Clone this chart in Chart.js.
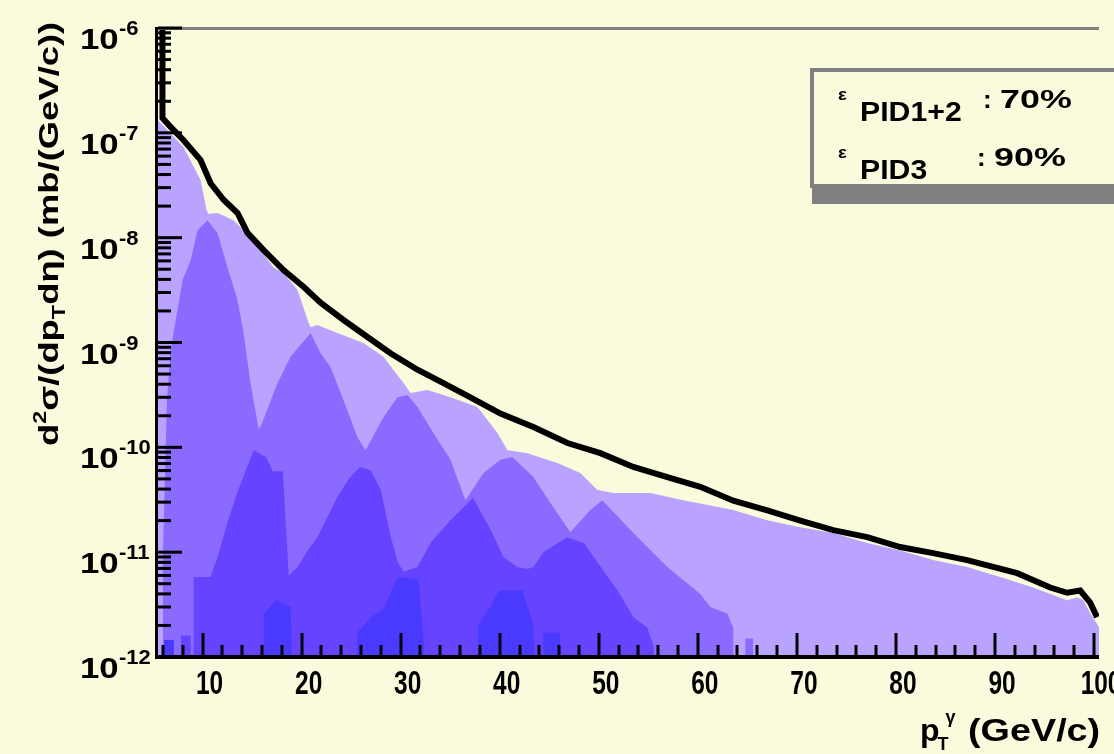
<!DOCTYPE html>
<html>
<head>
<meta charset="utf-8">
<script src="https://cdn.jsdelivr.net/npm/chart.js@4.4.1/dist/chart.umd.min.js"></script>
<style>
  html, body { margin: 0; padding: 0; background: #fafadc; }
  canvas { display: block; }
</style>
</head>
<body>
<canvas id="spectrum" width="1114" height="754"></canvas>
<script>
// Total spectrum (black line)
const totalPt = [5.5, 5.95, 5.95, 6.77, 8.08, 9.8, 10.81, 12.12, 13.53, 14.54, 16.16, 18.17, 20.19, 21.91, 24.23, 26.65, 28.97, 31.7, 34.32, 37.04, 40.07, 43.4, 46.83, 50.16, 53.49, 56.92, 60.25, 63.58, 67.01, 70.34, 73.67, 77.1, 80.43, 83.76, 87.19, 92.24, 95.57, 97.29, 98.6, 99.61, 100.3];
const totalVal = [5e-6, 5e-6, 1.38e-7, 1.14e-7, 8.5e-8, 5.5e-8, 3.3e-8, 2.3e-8, 1.72e-8, 1.11e-8, 7.6e-9, 4.9e-9, 3.4e-9, 2.4e-9, 1.64e-9, 1.13e-9, 7.9e-10, 5.5e-10, 4.1e-10, 3.0e-10, 2.1e-10, 1.56e-10, 1.1e-10, 8.8e-11, 6.5e-11, 5.2e-11, 4.2e-11, 3.1e-11, 2.5e-11, 2.0e-11, 1.62e-11, 1.39e-11, 1.12e-11, 9.8e-12, 8.4e-12, 6.3e-12, 4.6e-12, 4.1e-12, 4.3e-12, 3.3e-12, 2.4e-12];

// Light fill (upper envelope)
const lightPt = [5.5, 8.08, 9.8, 10.4, 10.61, 11.51, 13.13, 14.14, 15.85, 17.16, 18.17, 19.59, 20.6, 20.9, 21.6, 23.62, 26.25, 28.26, 30.28, 30.99, 32.7, 35.03, 37.75, 39.77, 40.78, 42.8, 45.82, 48.14, 49.86, 51.47, 55.21, 58.54, 63.58, 67.01, 70.34, 73.67, 77.1, 80.43, 83.76, 87.19, 90.52, 93.85, 97.29, 98.3, 98.9, 99.61, 100.5];
const lightVal = [1.32e-7, 7.3e-8, 3.55e-8, 1.83e-8, 1.68e-8, 1.72e-8, 1.47e-8, 1.18e-8, 7.6e-9, 5.2e-9, 4.6e-9, 3.16e-9, 1.64e-9, 1.4e-9, 1.47e-9, 1.23e-9, 9.9e-10, 7.3e-10, 4.1e-10, 3.29e-10, 3.52e-10, 3.01e-10, 2.42e-10, 1.37e-10, 9.4e-11, 8.8e-11, 7.1e-11, 5.7e-11, 3.91e-11, 3.66e-11, 3.66e-11, 3.13e-11, 2.52e-11, 2.02e-11, 1.73e-11, 1.52e-11, 1.22e-11, 1.04e-11, 8.4e-12, 7.2e-12, 5.8e-12, 4.6e-12, 3.48e-12, 3.72e-12, 3.48e-12, 2.62e-12, 1.92e-12];

// Medium fill (triangular peaks)
const midPt = [5.95, 6.0, 6.4, 6.77, 7.07, 7.98, 8.79, 9.5, 10.5, 11.51, 12.52, 13.53, 14.14, 14.84, 15.65, 15.85, 17.57, 18.88, 20.9, 21.91, 22.92, 24.23, 25.64, 26.45, 28.26, 29.68, 30.69, 31.7, 33.31, 35.03, 36.54, 38.36, 40.07, 41.28, 43.4, 45.12, 47.13, 49.15, 50.36, 53.49, 56.92, 60.25, 61.26, 62.98, 63.58, 63.6, 64.8, 64.8, 65.6, 65.6];
const midVal = [1e-12, 1e-11, 2.8e-10, 8.5e-10, 1.23e-9, 3.94e-9, 6.1e-9, 1.18e-8, 1.47e-8, 1.11e-8, 5.2e-9, 2.54e-9, 1.23e-9, 4.1e-10, 1.5e-10, 1.56e-10, 4.1e-10, 7.3e-10, 1.23e-9, 7.9e-10, 5.8e-10, 2.82e-10, 1.25e-10, 9.4e-11, 1.94e-10, 3.01e-10, 3.15e-10, 2.42e-10, 1.37e-10, 7.6e-11, 3.13e-11, 5.7e-11, 7.6e-11, 8.1e-11, 5.2e-11, 2.94e-11, 1.55e-11, 2.52e-11, 3.13e-11, 1.52e-11, 7.2e-12, 4.0e-12, 3.0e-12, 2.6e-12, 1.9e-12, 1e-12, 1e-12, 1.5e-12, 1.5e-12, 1e-12];

// Dark fill
const darkPt = [7.8, 7.8, 8.8, 8.8, 9.1, 9.1, 10.8, 11.5, 12.5, 13.5, 15.15, 16.4, 17.1, 18.1, 18.7, 19.6, 20.6, 21.6, 23.6, 24.9, 25.9, 27.0, 28.0, 29.0, 29.7, 30.3, 31.7, 33.0, 35.0, 37.3, 39.1, 40.4, 41.8, 42.8, 43.4, 44.4, 46.8, 48.5, 50.2, 51.9, 53.5, 54.9, 55.5, 55.6];
const darkVal = [1e-12, 1.6e-12, 1.6e-12, 1e-12, 1e-12, 5.8e-12, 5.8e-12, 8.9e-12, 1.9e-11, 3.7e-11, 9.4e-11, 8.1e-11, 5.9e-11, 5.9e-11, 6e-12, 7.2e-12, 1.04e-11, 1.39e-11, 3.35e-11, 5.2e-11, 6.5e-11, 6.0e-11, 3.9e-11, 1.4e-11, 8e-12, 6.5e-12, 7.2e-12, 1.22e-11, 2.0e-11, 3.3e-11, 1.62e-11, 8.9e-12, 7.2e-12, 6.9e-12, 7.2e-12, 1.0e-11, 1.39e-11, 1.22e-11, 7.2e-12, 4.3e-12, 2.4e-12, 1.9e-12, 1.3e-12, 1e-12];

// Bluest fill near the bottom
const bluePt = [6.1, 6.1, 7.1, 7.1, 16.2, 16.2, 17.5, 18.9, 19.0, 25.6, 25.6, 27.0, 28.3, 29.7, 31.8, 32.3, 32.4, 37.8, 37.8, 39.0, 40.0, 42.3, 43.4, 43.5, 44.4, 44.4, 46.1, 46.1];
const blueVal = [1e-12, 1.45e-12, 1.45e-12, 1e-12, 1e-12, 2.6e-12, 3.5e-12, 3.0e-12, 1e-12, 1e-12, 1.7e-12, 2.4e-12, 2.9e-12, 5.8e-12, 5.5e-12, 1.5e-12, 1e-12, 1e-12, 2.0e-12, 3.0e-12, 4.3e-12, 4.3e-12, 2.0e-12, 1e-12, 1e-12, 1.7e-12, 1.7e-12, 1e-12];

// Axis ticks and legend text
const xTickVals = [10, 20, 30, 40, 50, 60, 70, 80, 90, 100];
const yExponents = [-12, -11, -10, -9, -8, -7, -6];
const legendNames = ['PID1+2', 'PID3'];
const legendEff = ['70%', '90%'];

const BG = '#fafadc';
const FONT = '"Liberation Sans", Arial, sans-serif';

function points(xs, ys) {
  return xs.map((x, i) => ({ x, y: ys[i] }));
}

function fillSet(xs, ys, color, order) {
  return {
    data: points(xs, ys),
    backgroundColor: color,
    borderWidth: 0,
    pointRadius: 0,
    fill: 'start',
    order,
  };
}

// Draw text with horizontal stretch
function drawText(ctx, str, x, y, size, align, sx) {
  ctx.save();
  ctx.translate(x, y);
  ctx.scale(sx, 1);
  ctx.font = `bold ${size}px ${FONT}`;
  ctx.textAlign = align;
  ctx.textBaseline = 'alphabetic';
  ctx.fillText(str, 0, 0);
  const w = ctx.measureText(str).width * sx;
  ctx.restore();
  return w;
}

// Rich text: parts with vertical shift (negative = up)
function drawRich(ctx, parts, x, y, sx) {
  let cx = x;
  parts.forEach((p) => {
    cx += drawText(ctx, p.t, cx, y + (p.dy || 0), p.size, 'left', sx);
  });
  return cx - x;
}

const backgroundPlugin = {
  id: 'background',
  beforeDraw(chart) {
    const { ctx } = chart;
    ctx.save();
    ctx.fillStyle = BG;
    ctx.fillRect(0, 0, chart.width, chart.height);
    ctx.restore();
  },
};

const framePlugin = {
  id: 'frame',
  afterDatasetsDraw(chart) {
    const { ctx, chartArea: area } = chart;
    const xs = chart.scales.x;
    const ys = chart.scales.y;
    ctx.save();
    // top frame (grey), axes (black)
    ctx.fillStyle = '#808080';
    ctx.fillRect(area.left - 2, area.top - 1, area.right - area.left + 2, 3);
    ctx.fillStyle = '#000';
    ctx.fillRect(area.left - 3, area.top - 1, 3, area.bottom - area.top + 3);
    ctx.fillRect(area.left - 3, area.bottom - 2, area.right - area.left + 3, 4);

    // x ticks
    for (let v = 6; v <= 100; v += 2) {
      const px = Math.round(xs.getPixelForValue(v));
      const len = v % 10 === 0 ? 24 : 12;
      ctx.fillRect(px - 1.5, area.bottom - len, 3, len);
    }
    // y ticks
    yExponents.forEach((e) => {
      const py = ys.getPixelForValue(Math.pow(10, e));
      ctx.fillRect(area.left, py - 1.5, 24, 3);
      if (e < -6) {
        for (let m = 2; m <= 9; m++) {
          const pm = ys.getPixelForValue(m * Math.pow(10, e));
          ctx.fillRect(area.left, pm - 1.5, 13, 3);
        }
      }
    });

    // x labels
    xTickVals.forEach((v) => {
      const px = xs.getPixelForValue(v);
      drawText(ctx, String(v), px + 7, 694, 34, 'center', 0.72);
    });
    // y labels
    yExponents.forEach((e) => {
      const py = ys.getPixelForValue(Math.pow(10, e));
      drawText(ctx, '10', 80, py + 21, 29, 'left', 1.2);
      drawText(ctx, String(e), 119, py + 7, 20, 'left', 1.1);
    });

    // x title
    const tx = 920;
    const w = drawText(ctx, 'p', tx, 741, 32, 'left', 1.0);
    drawText(ctx, 'T', tx + w - 2, 750, 18, 'left', 1.0);
    drawText(ctx, 'γ', tx + w + 6, 723, 18, 'left', 1.0);
    drawText(ctx, '(GeV/c)', 968, 741, 32, 'left', 1.18);

    // y title (rotated)
    const titleParts = [
      { t: 'd', size: 28 },
      { t: '2', size: 18, dy: -12 },
      { t: 'σ/(dp', size: 28 },
      { t: 'T', size: 18, dy: 7 },
      { t: 'dη) (mb/(GeV/c))', size: 28 },
    ];
    ctx.translate(58, 446);
    ctx.rotate(-Math.PI / 2);
    drawRich(ctx, titleParts, 0, 0, 1.3);
    ctx.restore();
  },
  afterDraw(chart) {
    const { ctx } = chart;
    ctx.save();
    // legend box with shadow
    ctx.fillStyle = '#808080';
    ctx.fillRect(812, 186, 320, 18);
    ctx.fillStyle = BG;
    ctx.fillRect(810, 68, 320, 120);
    ctx.strokeStyle = '#808080';
    ctx.lineWidth = 4;
    ctx.strokeRect(812, 70, 320, 116);
    ctx.fillStyle = '#000';
    const rows = [
      { y: 108, colon: 983 },
      { y: 166, colon: 977 },
    ];
    rows.forEach((r, i) => {
      drawText(ctx, 'ε', 838, r.y - 8, 17, 'left', 1.1);
      drawText(ctx, legendNames[i], 860, r.y + 13, 27, 'left', 1.12);
      drawText(ctx, ':', r.colon, r.y, 26, 'left', 1.0);
      drawText(ctx, legendEff[i], r.colon + 17, r.y, 26, 'left', 1.38);
    });
    ctx.restore();
  },
};

const canvas = document.getElementById('spectrum');
const chart = new Chart(canvas.getContext('2d'), {
  type: 'line',
  data: {
    datasets: [
      {
        data: points(totalPt, totalVal),
        borderColor: '#000',
        borderWidth: 6,
        pointRadius: 0,
        fill: false,
        order: 0,
      },
      fillSet(bluePt, blueVal, '#4a3aff', 1),
      fillSet(darkPt, darkVal, '#6543ff', 2),
      fillSet(midPt, midVal, '#8b6bff', 3),
      fillSet(lightPt, lightVal, '#baa3ff', 4),
    ],
  },
  options: {
    responsive: false,
    animation: false,
    layout: { padding: { top: 28, right: 15, left: 0, bottom: 0 } },
    plugins: {
      legend: { display: false },
      tooltip: { enabled: false },
    },
    scales: {
      x: {
        type: 'linear',
        min: 5.5,
        max: 100.5,
        ticks: { display: false },
        grid: { display: false },
        border: { display: false },
        afterFit(scale) { scale.height = 97; },
      },
      y: {
        type: 'logarithmic',
        min: 1e-12,
        max: 1e-6,
        ticks: { display: false },
        grid: { display: false },
        border: { display: false },
        afterFit(scale) { scale.width = 158; },
      },
    },
  },
  plugins: [backgroundPlugin, framePlugin],
});
</script>
</body>
</html>
